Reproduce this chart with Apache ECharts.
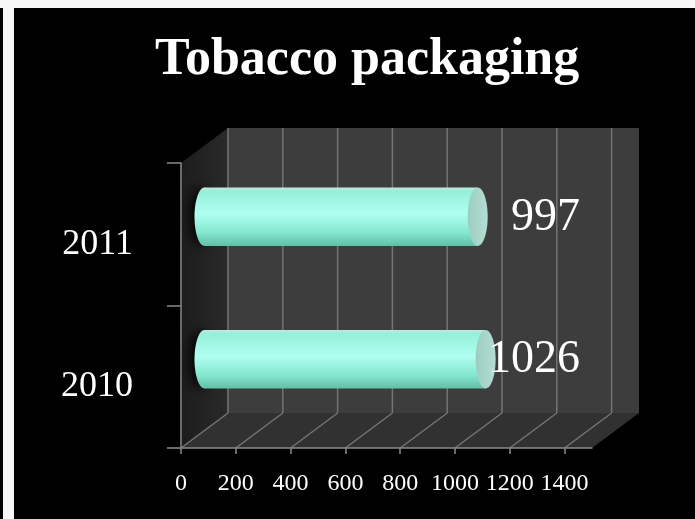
<!DOCTYPE html>
<html>
<head>
<meta charset="utf-8">
<script src="https://cdn.jsdelivr.net/npm/echarts@6/dist/echarts.min.js"></script>
<style>
  html, body { margin: 0; padding: 0; background: #000; }
  #chart { position: absolute; left: 0; top: 0; width: 695px; height: 519px; }
  .strip { position: absolute; background: #f6f6f6; z-index: 5; }
</style>
</head>
<body>
<div id="chart"></div>
<div class="strip" style="left:0;top:0;width:695px;height:8px;"></div>
<div class="strip" style="left:3px;top:0;width:11px;height:519px;"></div>
<script>
// Chart data
const categories = ['2010', '2011'];
const values = [1026, 997];
const tickValues = [0, 200, 400, 600, 800, 1000, 1200, 1400];
const axisMax = 1500;

// Depth of the pseudo-3D box (pixels)
const DX = 47, DY = -35;
const FONT = '"Liberation Serif", "Times New Roman", serif';

const chart = echarts.init(document.getElementById('chart'), null, { renderer: 'canvas' });

function frameItem(params, api) {
  const cs = params.coordSys;
  const top = cs.y, bottom = cs.y + cs.height;
  const x0 = api.coord([0, 0])[0];
  const x1 = api.coord([axisMax, 0])[0];
  const children = [];
  // left wall
  children.push({
    type: 'polygon',
    shape: { points: [[x0, top], [x0 + DX, top + DY], [x0 + DX, bottom + DY], [x0, bottom]] },
    style: { fill: new echarts.graphic.LinearGradient(0, 0, 1, 0, [
      { offset: 0, color: '#1c1c1c' }, { offset: 1, color: '#2a2a2a' }]) }
  });
  // back wall
  children.push({
    type: 'rect',
    shape: { x: x0 + DX, y: top + DY, width: x1 - x0, height: bottom - top },
    style: { fill: '#3d3d3d' }
  });
  // floor
  children.push({
    type: 'polygon',
    shape: { points: [[x0, bottom], [x1, bottom], [x1 + DX, bottom + DY], [x0 + DX, bottom + DY]] },
    style: { fill: '#313131' }
  });
  // grid lines on back wall and floor
  tickValues.forEach(function (v) {
    const x = api.coord([v, 0])[0];
    children.push({
      type: 'line',
      shape: { x1: x + DX, y1: top + DY, x2: x + DX, y2: bottom + DY },
      style: { stroke: '#747474', lineWidth: 1.5 }
    });
    children.push({
      type: 'line',
      shape: { x1: x, y1: bottom, x2: x + DX, y2: bottom + DY },
      style: { stroke: '#747474', lineWidth: 1.5 }
    });
  });
  return { type: 'group', children: children };
}

function cylinderItem(params, api) {
  const val = api.value(0);
  const cat = api.value(1);
  const p0 = api.coord([0, cat]);
  const p1 = api.coord([val, cat]);
  const band = api.size([0, 1])[1];
  const h = band * 0.41;
  const cy = p0[1] + DY / 2;
  const xs = p0[0] + DX / 2;
  const xe = p1[0] + DX / 2;
  const rx = 10;
  const cs = params.coordSys;
  const bodyFill = new echarts.graphic.LinearGradient(0, 0, 0, 1, [
    { offset: 0, color: '#c4e9df' },
    { offset: 0.06, color: '#96efd8' },
    { offset: 0.45, color: '#b0fff2' },
    { offset: 0.78, color: '#82e6cc' },
    { offset: 1, color: '#62bfa7' }
  ]);
  return {
    type: 'group',
    children: [
      {
        type: 'ellipse',
        shape: { cx: xs, cy: cy, rx: rx, ry: h / 2 },
        style: { fill: bodyFill, shadowBlur: 12, shadowColor: 'rgba(0,0,0,0.9)', shadowOffsetX: -5 }
      },
      {
        type: 'rect',
        shape: { x: xs, y: cy - h / 2, width: xe - xs, height: h },
        style: { fill: bodyFill }
      },
      {
        type: 'ellipse',
        shape: { cx: xe, cy: cy, rx: rx, ry: h / 2 },
        style: { fill: new echarts.graphic.LinearGradient(0, 0, 1, 0, [
          { offset: 0, color: '#9ccdc1' }, { offset: 1, color: '#b6ddd3' }]) }
      },
      {
        type: 'text',
        style: {
          text: String(val),
          x: cs.x + cs.width - 12,
          y: cy + 1,
          align: 'right',
          verticalAlign: 'middle',
          fill: '#ffffff',
          fontSize: 46,
          fontFamily: FONT
        }
      }
    ]
  };
}

const option = {
  backgroundColor: 'transparent',
  animation: false,
  title: {
    text: 'Tobacco packaging',
    left: 150,
    top: 30,
    textStyle: { color: '#ffffff', fontSize: 52, fontWeight: 'bold', fontFamily: FONT }
  },
  grid: { left: 181, right: 103, top: 163, bottom: 71, containLabel: false },
  xAxis: {
    type: 'value',
    min: 0,
    max: axisMax,
    interval: 200,
    axisLine: { show: true, lineStyle: { color: '#8a8a8a', width: 1.5 } },
    axisTick: { show: true, length: 6, customValues: tickValues, lineStyle: { color: '#8a8a8a', width: 1.5 } },
    axisLabel: {
      customValues: tickValues,
      color: '#ffffff', fontSize: 24, fontFamily: FONT, margin: 24,
      formatter: function (v) { return v > 1400 ? '' : String(v); }
    },
    splitLine: { show: false }
  },
  yAxis: {
    type: 'category',
    data: categories,
    axisLine: { show: true, lineStyle: { color: '#8a8a8a', width: 1.5 } },
    axisTick: { show: true, length: 14, lineStyle: { color: '#8a8a8a', width: 1.5 } },
    axisLabel: {
      color: '#ffffff', fontSize: 36, fontFamily: FONT, margin: 48,
      verticalAlign: 'top', lineHeight: 20
    },
    splitLine: { show: false }
  },
  series: [
    {
      type: 'custom',
      name: 'frame',
      z: -1,
      silent: true,
      renderItem: frameItem,
      data: [[0, 0]],
      encode: { x: 0, y: 1 }
    },
    {
      type: 'custom',
      name: 'Tobacco packaging',
      renderItem: cylinderItem,
      data: values.map(function (v, i) { return [v, i]; }),
      encode: { x: 0, y: 1 }
    }
  ]
};
chart.setOption(option);
</script>
</body>
</html>
